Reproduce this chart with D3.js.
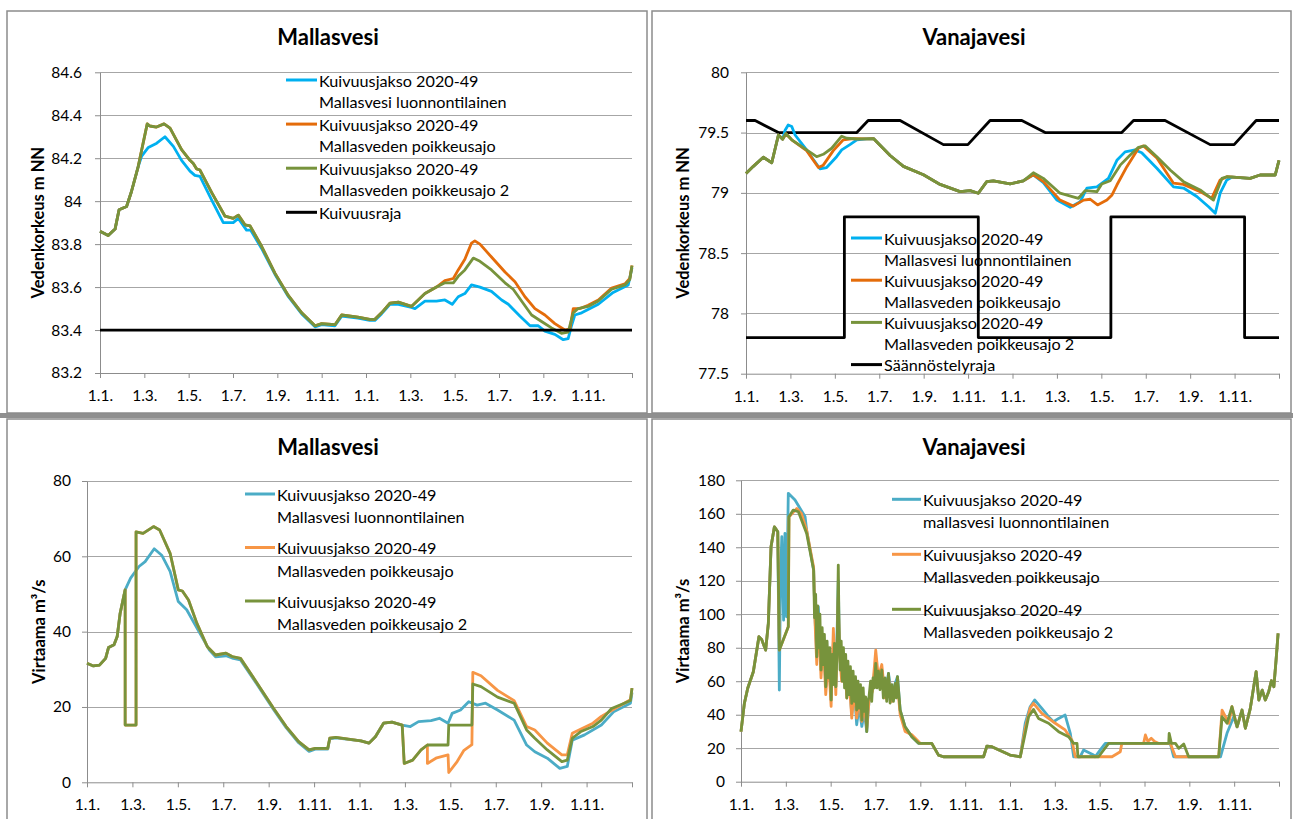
<!DOCTYPE html>
<html lang="fi">
<head>
<meta charset="utf-8">
<title>Mallasvesi ja Vanajavesi</title>
<script src="https://d3js.org/d3.v7.min.js"></script>
<style>
  body { margin: 0; background: #fff; }
  svg { display: block; font-family: Lato, "Open Sans", sans-serif; }
</style>
</head>
<body>
<script>
// x values are months counted from 1.1. of the first year (0..24)
var monthTicks = [0, 2, 4, 6, 8, 10, 12, 14, 16, 18, 20, 22, 24];
var monthLabels = ["1.1.", "1.3.", "1.5.", "1.7.", "1.9.", "1.11.", "1.1.", "1.3.", "1.5.", "1.7.", "1.9.", "1.11.", ""];

var tlTicks = [83.2, 83.4, 83.6, 83.8, 84, 84.2, 84.4, 84.6];
var trTicks = [77.5, 78, 78.5, 79, 79.5, 80];
var blTicks = [0, 20, 40, 60, 80];
var brTicks = [0, 20, 40, 60, 80, 100, 120, 140, 160, 180];

var topColours = ["#00b0f0", "#e46c0a", "#77933c"];
var bottomColours = ["#4bacc6", "#f79646", "#77933c"];

var legendTL = [["Kuivuusjakso 2020-49", "Mallasvesi luonnontilainen"], ["Kuivuusjakso 2020-49", "Mallasveden poikkeusajo"], ["Kuivuusjakso 2020-49", "Mallasveden poikkeusajo 2"], ["Kuivuusraja"]];
var legendTR = [["Kuivuusjakso 2020-49", "Mallasvesi luonnontilainen"], ["Kuivuusjakso 2020-49", "Mallasveden poikkeusajo"], ["Kuivuusjakso 2020-49", "Mallasveden poikkeusajo 2"], ["Säännöstelyraja"]];
var legendBL = [["Kuivuusjakso 2020-49", "Mallasvesi luonnontilainen"], ["Kuivuusjakso 2020-49", "Mallasveden poikkeusajo"], ["Kuivuusjakso 2020-49", "Mallasveden poikkeusajo 2"]];
var legendBR = [["Kuivuusjakso 2020-49", "mallasvesi luonnontilainen"], ["Kuivuusjakso 2020-49", "Mallasveden poikkeusajo"], ["Kuivuusjakso 2020-49", "Mallasveden poikkeusajo 2"]];

// ---- Mallasvesi water level (m NN)
var tlBlue = [[0,83.86],[0.37,83.84],[0.68,83.87],[0.86,83.96],[1.2,83.975],[1.42,84.045],[1.72,84.16],[1.88,84.21],[2.18,84.25],[2.56,84.27],[2.93,84.30],[3.31,84.255],[3.68,84.19],[4.06,84.14],[4.28,84.12],[4.51,84.115],[5.04,84.005],[5.56,83.90],[6.01,83.90],[6.24,83.92],[6.61,83.865],[6.8,83.865],[7.29,83.78],[7.89,83.66],[8.5,83.555],[9.1,83.475],[9.7,83.415],[10.0,83.425],[10.6,83.42],[10.9,83.465],[11.64,83.455],[12.17,83.445],[12.4,83.445],[12.7,83.475],[13.08,83.52],[13.46,83.52],[14.05,83.505],[14.21,83.50],[14.66,83.535],[15.18,83.535],[15.56,83.54],[15.89,83.52],[16.16,83.555],[16.46,83.57],[16.76,83.61],[17.14,83.60],[17.66,83.58],[18.12,83.54],[18.42,83.52],[18.94,83.465],[19.4,83.42],[19.77,83.42],[20.07,83.395],[20.52,83.38],[20.9,83.355],[21.12,83.36],[21.27,83.42],[21.42,83.47],[21.73,83.48],[22.48,83.52],[23.15,83.575],[23.83,83.61],[24,83.69]];
var tlOrange = [[0,83.86],[0.37,83.84],[0.68,83.87],[0.86,83.96],[1.2,83.975],[1.42,84.045],[1.72,84.16],[2.13,84.36],[2.25,84.35],[2.55,84.345],[2.89,84.36],[3.16,84.34],[3.68,84.24],[4.06,84.19],[4.21,84.175],[4.36,84.15],[4.51,84.145],[5.04,84.04],[5.64,83.93],[6.01,83.92],[6.24,83.935],[6.54,83.89],[6.77,83.885],[7.29,83.79],[7.89,83.665],[8.5,83.56],[9.1,83.48],[9.7,83.42],[10.0,83.43],[10.6,83.425],[10.9,83.47],[11.64,83.46],[12.17,83.45],[12.4,83.45],[12.7,83.48],[13.08,83.525],[13.46,83.53],[14.05,83.51],[14.66,83.57],[15.18,83.60],[15.56,83.63],[15.94,83.64],[16.16,83.68],[16.46,83.73],[16.76,83.805],[16.91,83.815],[17.14,83.80],[17.66,83.74],[18.27,83.67],[18.72,83.625],[19.17,83.555],[19.62,83.50],[20.07,83.47],[20.52,83.43],[20.97,83.40],[21.2,83.405],[21.35,83.50],[21.65,83.50],[22.02,83.515],[22.48,83.54],[23.08,83.595],[23.68,83.615],[23.9,83.64],[24,83.70]];
var tlGreen = [[0,83.86],[0.37,83.84],[0.68,83.87],[0.86,83.96],[1.2,83.975],[1.42,84.045],[1.72,84.16],[2.13,84.36],[2.25,84.35],[2.55,84.345],[2.89,84.36],[3.16,84.34],[3.68,84.24],[4.06,84.19],[4.21,84.175],[4.36,84.15],[4.51,84.145],[5.04,84.04],[5.64,83.93],[6.01,83.92],[6.24,83.935],[6.54,83.89],[6.77,83.885],[7.29,83.79],[7.89,83.665],[8.5,83.56],[9.1,83.48],[9.7,83.42],[10.0,83.43],[10.6,83.425],[10.9,83.47],[11.64,83.46],[12.17,83.45],[12.4,83.45],[12.7,83.48],[13.08,83.525],[13.46,83.53],[14.05,83.51],[14.66,83.57],[15.18,83.60],[15.56,83.62],[15.94,83.62],[16.16,83.65],[16.46,83.68],[16.84,83.735],[17.14,83.72],[17.66,83.68],[18.27,83.62],[18.64,83.59],[19.09,83.525],[19.47,83.47],[19.92,83.44],[20.37,83.41],[20.82,83.385],[21.12,83.39],[21.35,83.48],[21.57,83.50],[22.02,83.51],[22.48,83.535],[23.08,83.59],[23.68,83.61],[23.9,83.635],[24,83.70]];
var tlLimit = [[0,83.4],[24,83.4]];

// ---- Vanajavesi water level (m NN)
var trBlue = [[0,79.16],[0.33,79.22],[0.78,79.295],[1.16,79.25],[1.46,79.48],[1.65,79.445],[1.76,79.52],[1.9,79.563],[2.06,79.55],[2.21,79.48],[2.73,79.356],[3.33,79.20],[3.63,79.21],[4.08,79.30],[4.31,79.356],[4.68,79.40],[4.99,79.44],[5.44,79.447],[5.74,79.45],[6.49,79.31],[7.09,79.22],[7.99,79.15],[8.74,79.07],[9.64,79.01],[10.09,79.018],[10.46,78.997],[10.84,79.093],[11.14,79.10],[11.89,79.074],[12.49,79.10],[12.94,79.15],[13.39,79.085],[14.0,78.94],[14.6,78.88],[15.05,78.927],[15.35,79.04],[15.8,79.05],[16.32,79.12],[16.7,79.27],[17.07,79.34],[17.52,79.356],[17.82,79.333],[18.5,79.204],[19.25,79.05],[19.7,79.04],[20.3,78.97],[20.83,78.885],[21.13,78.83],[21.35,78.997],[21.65,79.107],[21.87,79.13],[22.7,79.12],[23.15,79.148],[23.83,79.148],[24,79.27]];
var trOrange = [[0,79.16],[0.33,79.22],[0.78,79.295],[1.16,79.25],[1.46,79.48],[1.65,79.445],[1.8,79.49],[2.06,79.44],[2.73,79.35],[3.26,79.21],[3.48,79.23],[3.93,79.35],[4.38,79.44],[4.84,79.45],[5.44,79.447],[5.74,79.45],[6.49,79.31],[7.09,79.22],[7.99,79.15],[8.74,79.07],[9.64,79.01],[10.09,79.018],[10.46,78.997],[10.84,79.093],[11.14,79.10],[11.89,79.074],[12.49,79.10],[12.94,79.15],[13.39,79.093],[14.14,78.94],[14.74,78.89],[15.2,78.94],[15.5,78.947],[15.83,78.90],[16.25,78.94],[16.47,78.98],[16.7,79.065],[17.15,79.217],[17.67,79.37],[17.9,79.39],[18.5,79.29],[19.25,79.08],[19.7,79.07],[20.45,79.01],[20.97,78.955],[21.35,79.107],[21.65,79.134],[22.7,79.12],[23.15,79.148],[23.83,79.148],[24,79.27]];
var trGreen = [[0,79.16],[0.33,79.22],[0.78,79.295],[1.16,79.25],[1.46,79.48],[1.65,79.445],[1.8,79.49],[2.06,79.44],[2.73,79.356],[3.18,79.30],[3.48,79.32],[3.86,79.37],[4.31,79.47],[4.53,79.453],[4.99,79.447],[5.44,79.447],[5.74,79.45],[6.49,79.31],[7.09,79.22],[7.99,79.15],[8.74,79.07],[9.64,79.01],[10.09,79.018],[10.46,78.997],[10.84,79.093],[11.14,79.10],[11.89,79.074],[12.49,79.10],[12.94,79.167],[13.39,79.12],[14.14,78.997],[14.97,78.955],[15.27,79.018],[15.8,79.01],[16.02,79.074],[16.4,79.10],[16.85,79.23],[17.3,79.314],[17.67,79.378],[17.97,79.39],[18.5,79.30],[19.1,79.19],[19.7,79.093],[20.45,79.024],[21.05,78.94],[21.43,79.12],[21.65,79.134],[22.7,79.12],[23.15,79.148],[23.83,79.148],[24,79.27]];
var trUpper = [[0,79.6],[0.41,79.6],[1.46,79.5],[4.99,79.5],[5.5,79.6],[6.94,79.6],[8.89,79.4],[9.99,79.4],[10.99,79.6],[12.42,79.6],[13.47,79.5],[16.92,79.5],[17.45,79.6],[18.87,79.6],[20.9,79.4],[21.98,79.4],[22.97,79.6],[24,79.6]];
var trLower = [[0,77.8],[4.43,78.8],[10.46,77.8],[16.43,78.8],[22.45,77.8],[24,77.8]]; // step changes

// ---- Mallasvesi discharge (m3/s)
var blBlue = [[0,31.6],[0.28,30.9],[0.55,31.1],[0.82,32.9],[0.95,35.8],[1.19,36.5],[1.33,38.7],[1.46,44.9],[1.68,51.1],[1.92,54.2],[2.29,57.3],[2.56,58.6],[2.96,62.0],[3.29,60.3],[3.66,56.0],[4.02,48.0],[4.39,45.8],[4.93,40.0],[5.39,35.1],[5.66,33.3],[6.12,33.6],[6.39,33.0],[6.76,32.5],[7.49,26.0],[8.22,19.3],[8.77,14.5],[9.32,10.5],[9.78,8.2],[10.05,8.8],[10.6,8.8],[10.69,11.5],[10.96,11.8],[12.06,11.0],[12.42,10.4],[12.7,12.1],[13.06,15.7],[13.43,16.0],[13.88,15.2],[14.24,14.8],[14.6,16.1],[15.15,16.4],[15.52,17.0],[15.9,15.7],[16.08,18.3],[16.45,19.2],[16.81,21.4],[17.18,20.5],[17.55,21.0],[18.08,19.2],[18.81,16.5],[19.36,9.9],[19.72,8.1],[20.27,6.4],[20.82,3.7],[21.15,4.2],[21.37,11.2],[21.91,12.6],[22.65,15.2],[23.19,18.7],[23.93,21.0],[24,23.8]];
var blOrange = [[0,31.6],[0.28,30.9],[0.55,31.1],[0.82,32.9],[0.95,35.8],[1.19,36.5],[1.33,38.7],[1.46,44.9],[1.68,51.1],[1.68,15.2],[2.16,15.2],[2.16,66.5],[2.47,66.1],[2.93,67.9],[3.2,67.0],[3.66,60.8],[4.02,51.1],[4.2,50.8],[4.47,48.4],[4.84,42.2],[5.3,36.0],[5.66,33.8],[6.12,34.3],[6.39,33.4],[6.76,32.9],[7.49,26.3],[8.22,19.6],[8.77,14.8],[9.32,10.8],[9.78,8.6],[10.05,9.0],[10.6,9.0],[10.69,11.7],[10.96,11.9],[12.06,11.0],[12.42,10.4],[12.7,12.1],[13.06,15.7],[13.43,16.0],[13.88,15.2],[13.97,5.0],[14.34,5.9],[14.71,8.6],[14.99,9.9],[14.99,5.0],[15.4,6.5],[15.9,7.3],[15.93,2.6],[16.3,5.5],[16.6,8.5],[16.95,10.0],[16.99,29.2],[17.35,28.3],[18.08,24.4],[18.81,21.7],[19.36,14.8],[19.72,13.9],[20.27,10.4],[20.91,7.3],[21.15,7.3],[21.37,13.0],[22.28,15.7],[22.65,17.5],[23.19,19.4],[23.93,21.9],[24,25.0]];
var blGreen = [[0,31.6],[0.28,30.9],[0.55,31.1],[0.82,32.9],[0.95,35.8],[1.19,36.5],[1.33,38.7],[1.46,44.9],[1.68,51.1],[1.68,15.2],[2.16,15.2],[2.16,66.5],[2.47,66.1],[2.93,67.9],[3.2,67.0],[3.66,60.8],[4.02,51.1],[4.2,50.8],[4.47,48.4],[4.84,42.2],[5.3,36.0],[5.66,33.8],[6.12,34.3],[6.39,33.4],[6.76,32.9],[7.49,26.3],[8.22,19.6],[8.77,14.8],[9.32,10.8],[9.78,8.6],[10.05,9.0],[10.6,9.0],[10.69,11.7],[10.96,11.9],[12.06,11.0],[12.42,10.4],[12.7,12.1],[13.06,15.7],[13.43,16.0],[13.88,15.2],[13.97,5.0],[14.34,5.9],[14.71,8.6],[14.99,9.9],[15.9,9.9],[15.93,15.2],[16.95,15.2],[16.99,26.1],[17.35,25.4],[18.08,22.6],[18.81,21.0],[19.36,13.9],[19.72,11.7],[20.27,8.6],[20.91,5.5],[21.15,5.9],[21.37,11.7],[21.73,13.4],[22.28,14.8],[22.65,16.5],[23.1,19.6],[23.66,21.0],[23.93,21.7],[24,25.0]];

// ---- Vanajavesi discharge (m3/s)
var brBlue = [[0,29.9],[0.15,46.8],[0.3,55.8],[0.55,65.7],[0.8,86.6],[0.92,85],[1.1,78.6],[1.22,94.6],[1.34,140.3],[1.49,152.2],[1.64,149.3],[1.71,54.7],[1.76,120],[1.82,146.3],[1.9,96.5],[1.96,148.3],[2.03,98.5],[2.11,172.2],[2.41,168.2],[2.86,158.2],[2.93,150],[3.24,126.4],[3.3,98.5],[3.38,74.6],[3.45,104.5],[3.57,66.7],[3.67,86.6],[3.78,56.7],[3.9,78.6],[4.02,48.8],[4.12,82.6],[4.23,56.7],[4.34,120],[4.39,80],[4.49,64],[4.61,76],[4.72,52],[4.82,64],[4.94,40],[5.06,55],[5.16,34],[5.27,45],[5.39,33],[5.5,42],[5.61,30],[5.71,48],[5.86,56],[6.01,70.7],[6.13,60.7],[6.28,66.7],[6.43,52.8],[6.58,64.7],[6.73,50.7],[6.88,58.7],[6.98,62.7],[7.1,42.8],[7.32,32.8],[7.62,26.9],[7.92,22.9],[8.51,22.9],[8.81,15.9],[9.03,14.9],[10.82,14.9],[10.97,21.3],[11.19,20.9],[12.0,15.9],[12.46,14.9],[12.68,34.9],[12.9,44.8],[13.1,48.8],[13.42,43.8],[13.72,38.8],[13.94,35.8],[14.17,37.8],[14.46,39.8],[14.69,28.9],[14.84,14.9],[15.13,14.9],[15.28,18.9],[15.73,15.9],[15.8,14.9],[16.02,18.9],[16.25,22.9],[19.15,22.9],[19.3,14.9],[21.39,14.9],[21.68,28.9],[21.98,38.8],[22.13,32.8],[22.35,42.8],[22.5,31.9],[22.72,43.8],[22.92,60.7],[22.98,65.7],[23.1,48.8],[23.25,54.7],[23.39,48.8],[23.54,53.7],[23.66,60.3],[23.77,56.7],[23.87,72.7],[23.96,88.6]];
var brOrange = [[0,29.9],[0.15,46.8],[0.3,55.8],[0.55,65.7],[0.8,86.6],[0.92,85],[1.1,78.6],[1.22,94.6],[1.34,140.3],[1.49,152.2],[1.64,149.3],[1.71,78.6],[2.11,92.5],[2.14,158],[2.49,163.2],[2.7,160],[2.93,150],[3.24,128],[3.3,96],[3.38,70],[3.45,100],[3.57,62],[3.67,84],[3.78,52],[3.9,74],[4.02,45],[4.12,91.6],[4.23,52],[4.34,110],[4.39,78],[4.49,60],[4.61,74],[4.72,50],[4.82,62],[4.94,38],[5.06,56],[5.16,38],[5.27,50],[5.39,36],[5.5,46],[5.61,32],[5.71,48],[5.86,54],[6.01,78.6],[6.13,62],[6.28,70],[6.43,50],[6.58,62],[6.73,48],[6.88,56],[6.98,58],[7.1,40],[7.32,30],[7.62,28],[7.92,24],[8.0,22.9],[8.51,22.9],[8.81,15.9],[9.03,14.9],[10.82,14.9],[10.97,21.3],[11.19,20.9],[12.0,15.9],[12.46,14.9],[12.68,32],[12.9,44],[13.05,46.8],[13.42,40.8],[14.02,34.9],[14.46,30.9],[14.76,24.9],[14.91,14.9],[16.55,14.9],[16.92,17.9],[16.99,22.9],[17.96,22.9],[18.04,27.9],[18.15,24],[18.3,25.9],[18.45,24],[18.62,22.9],[19.15,22.9],[19.38,14.9],[21.31,14.9],[21.46,42.8],[21.61,38.8],[21.76,34.9],[21.9,44.8],[22.13,32.8],[22.35,42.8],[22.5,31.9],[22.72,43.8],[22.92,60.7],[22.98,65.7],[23.1,48.8],[23.25,54.7],[23.39,48.8],[23.54,53.7],[23.66,60.3],[23.77,56.7],[23.87,72.7],[23.96,88.6]];
var brGreen = [[0,29.9],[0.15,46.8],[0.3,55.8],[0.55,65.7],[0.8,86.6],[0.92,85],[1.1,78.6],[1.22,94.6],[1.34,140.3],[1.49,152.2],[1.64,149.3],[1.71,78.6],[2.11,92.5],[2.14,158.2],[2.33,162.2],[2.56,161.2],[2.93,148.3],[3.24,126.4],[3.28,98],[3.33,112],[3.38,74.6],[3.42,105],[3.47,80],[3.52,100],[3.57,66.7],[3.62,92],[3.67,70],[3.72,88],[3.78,56.7],[3.84,84],[3.9,62],[3.96,80],[4.02,48.8],[4.07,76],[4.12,58],[4.17,82.6],[4.23,56.7],[4.29,80],[4.34,129.4],[4.37,95],[4.42,66.7],[4.47,84],[4.52,60],[4.57,80],[4.62,56],[4.67,76],[4.72,50],[4.77,72],[4.82,52],[4.88,68.7],[4.94,46.8],[5.0,66],[5.06,48],[5.11,62.7],[5.16,42.8],[5.22,60],[5.27,44],[5.33,58],[5.39,36.8],[5.45,56],[5.5,42],[5.56,50.7],[5.61,29.9],[5.66,48],[5.71,50.7],[5.78,60],[5.83,48],[5.89,62],[5.95,56],[6.01,70.7],[6.07,56],[6.13,66],[6.2,55],[6.28,66.7],[6.35,50],[6.43,62],[6.5,48],[6.58,64.7],[6.65,47],[6.73,58],[6.8,48],[6.88,58.7],[6.93,50],[6.98,62.7],[7.1,42.8],[7.32,32.8],[7.62,26.9],[7.92,22.9],[8.51,22.9],[8.81,15.9],[9.03,14.9],[10.82,14.9],[10.97,21.3],[11.19,20.9],[12.0,15.9],[12.46,14.9],[12.68,28.9],[12.83,38.8],[13.05,43.2],[13.27,37.8],[13.72,34.9],[14.17,29.9],[14.61,26.9],[14.84,22.9],[14.99,22.9],[15.03,14.9],[15.95,14.9],[16.4,22.9],[19.08,22.9],[19.1,28.9],[19.2,22.9],[19.38,22.9],[19.53,19.9],[19.75,22.5],[19.97,14.9],[21.31,14.9],[21.46,38.8],[21.68,34.9],[21.9,44.8],[22.13,32.8],[22.35,42.8],[22.5,31.9],[22.72,43.8],[22.92,60.7],[22.98,65.7],[23.1,48.8],[23.25,54.7],[23.39,48.8],[23.54,53.7],[23.66,60.3],[23.77,56.7],[23.87,72.7],[23.96,88.6]];

var W = 1293, H = 819;
var svg = d3.select("body").append("svg").attr("width", W).attr("height", H);

// panel frames and separators
svg.append("rect").attr("x", 0).attr("y", 413).attr("width", W).attr("height", 5).attr("fill", "#8f8f8f");
[[7, 11, 640, 402], [652, 11, 639, 402], [7, 419, 640, 410], [652, 419, 639, 410]].forEach(function(f) {
  svg.append("rect").attr("x", f[0]).attr("y", f[1]).attr("width", f[2]).attr("height", f[3])
    .attr("fill", "none").attr("stroke", "#8c8c8c").attr("stroke-width", 1.5);
});

var panels = [
  { plot: [100, 632, 72.3, 373], title: "Mallasvesi", tx: 328, ty: 45, yTitle: "Vedenkorkeus m NN", ytx: 38,
    domain: [83.2, 84.6], ticks: tlTicks, labelPad: 13,
    lines: [[tlBlue, topColours[0]], [tlOrange, topColours[1]], [tlGreen, topColours[2]], [tlLimit, "#000"]],
    legend: { x1: 286, x2: 317, y0: 80, item: 44.1, row: 21.7, labels: legendTL, colours: topColours.concat(["#000"]) } },
  { plot: [746, 1279, 72.3, 373.7], title: "Vanajavesi", tx: 974, ty: 45, yTitle: "Vedenkorkeus m NN", ytx: 683,
    domain: [77.5, 80], ticks: trTicks, labelPad: 12,
    lines: [[trUpper, "#000"], [trLower, "#000", true], [trBlue, topColours[0]], [trOrange, topColours[1]], [trGreen, topColours[2]]],
    legend: { x1: 851, x2: 882, y0: 238, item: 42.2, row: 21.5, labels: legendTR, colours: topColours.concat(["#000"]) } },
  { plot: [87, 632, 481, 782.3], title: "Mallasvesi", tx: 328, ty: 455, yTitle: "Virtaama m³/s", ytx: 39,
    domain: [0, 80], ticks: blTicks, labelPad: 11,
    lines: [[blBlue, bottomColours[0]], [blOrange, bottomColours[1]], [blGreen, bottomColours[2]]],
    legend: { x1: 245, x2: 275, y0: 494, item: 53.5, row: 22.5, labels: legendBL, colours: bottomColours } },
  { plot: [741, 1279, 480.3, 781.7], title: "Vanajavesi", tx: 974, ty: 455, yTitle: "Virtaama m³/s", ytx: 683,
    domain: [0, 180], ticks: brTicks, labelPad: 11,
    lines: [[brBlue, bottomColours[0]], [brOrange, bottomColours[1]], [brGreen, bottomColours[2]]],
    legend: { x1: 892, x2: 921, y0: 499.3, item: 55, row: 22, labels: legendBR, colours: bottomColours } }
];

panels.forEach(function(p) {
  var g = svg.append("g");
  var x = d3.scaleLinear().domain([0, 24]).range([p.plot[0], p.plot[1]]);
  var y = d3.scaleLinear().domain(p.domain).range([p.plot[3], p.plot[2]]);

  // gridlines
  g.append("g").selectAll("line").data(p.ticks.slice(1)).join("line")
    .attr("x1", p.plot[0]).attr("x2", p.plot[1])
    .attr("y1", function(d) { return Math.round(y(d)) + 0.5; })
    .attr("y2", function(d) { return Math.round(y(d)) + 0.5; })
    .attr("stroke", "#a6a6a6").attr("stroke-width", 1);

  // axes
  var yAxis = g.append("g").attr("transform", "translate(" + p.plot[0] + ",0)")
    .call(d3.axisLeft(y).tickValues(p.ticks).tickSize(5).tickSizeOuter(0).tickPadding(p.labelPad)
      .tickFormat(function(d) { return String(+d.toFixed(1)); }));
  var xAxis = g.append("g").attr("transform", "translate(0," + p.plot[3] + ")")
    .call(d3.axisBottom(x).tickValues(monthTicks).tickSize(5).tickSizeOuter(0).tickPadding(12)
      .tickFormat(function(d, i) { return monthLabels[i]; }));
  [yAxis, xAxis].forEach(function(a) {
    a.selectAll("path, line").attr("stroke", "#8c8c8c");
    a.selectAll("text").attr("fill", "#000").style("font-size", "15.5px").style("font-family", "Lato, sans-serif");
  });

  // series
  p.lines.forEach(function(s) {
    var line = d3.line().x(function(d) { return x(d[0]); }).y(function(d) { return y(d[1]); });
    if (s[2]) line.curve(d3.curveStepAfter);
    g.append("path").datum(s[0]).attr("d", line)
      .attr("fill", "none").attr("stroke", s[1]).attr("stroke-width", 2.8)
      .attr("stroke-linejoin", "round");
  });

  // titles
  g.append("text").attr("x", p.tx).attr("y", p.ty).attr("text-anchor", "middle")
    .style("font-size", "22px").style("font-weight", "bold").text(p.title);
  g.append("text").attr("transform", "translate(" + p.ytx + "," + ((p.plot[2] + p.plot[3]) / 2) + ") rotate(-90)")
    .attr("text-anchor", "middle").attr("dominant-baseline", "central")
    .style("font-size", "16.5px").style("font-weight", "bold").text(p.yTitle);

  // legend
  var L = p.legend;
  L.labels.forEach(function(lines, i) {
    var yy = L.y0 + i * L.item;
    g.append("line").attr("x1", L.x1).attr("x2", L.x2).attr("y1", yy).attr("y2", yy)
      .attr("stroke", L.colours[i]).attr("stroke-width", 3);
    lines.forEach(function(t, j) {
      g.append("text").attr("x", L.x2 + 2).attr("y", yy + j * L.row).attr("dominant-baseline", "central")
        .style("font-size", "16.2px").text(t);
    });
  });
});
</script>
</body>
</html>
